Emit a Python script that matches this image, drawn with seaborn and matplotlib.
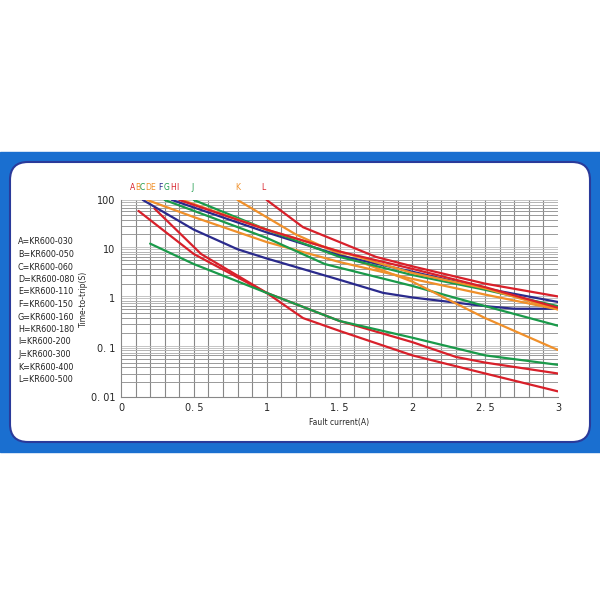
import numpy as np
import pandas as pd
import seaborn as sns
import matplotlib
matplotlib.use("Agg")
import matplotlib.pyplot as plt
from matplotlib.patches import FancyBboxPatch, Rectangle

sns.set_theme(style="white")
plt.rcParams['font.family'] = ['DejaVu Sans']

RED = "#d8202a"; GREEN = "#1a9a4a"; BLUE = "#2a2a8c"; ORANGE = "#f0902a"

curves = {
    "L1": ([0.12, 0.5, 1.0, 1.25, 1.5, 2.0, 2.5, 3.0], [60, 8, 1.3, 0.4, 0.22, 0.07, 0.03, 0.013], RED),
    "L2": ([0.23, 0.55, 1.0, 1.5, 2.0, 2.3, 2.5, 3.0], [67, 8, 1.3, 0.35, 0.13, 0.065, 0.05, 0.03], RED),
    "G1": ([0.2, 0.5, 1.0, 1.5, 2.0, 2.5, 3.0], [13, 5, 1.3, 0.35, 0.16, 0.07, 0.045], GREEN),
    "B1": ([0.15, 0.5, 0.8, 1.0, 1.5, 1.8, 2.0, 2.5, 2.7, 3.0], [100, 25, 10, 6.5, 2.4, 1.3, 1.05, 0.7, 0.62, 0.62], BLUE),
    "O1": ([0.18, 0.5, 1.0, 1.5, 2.0, 2.5, 3.0], [100, 45, 14, 5.5, 2.5, 1.2, 0.6], ORANGE),
    "G2": ([0.3, 1.0, 1.4, 2.0, 2.5, 3.0], [100, 17, 5, 1.8, 0.7, 0.28], GREEN),
    "K": ([0.8, 1.2, 1.5, 2.0, 2.5, 3.0], [100, 20, 8, 2.2, 0.4, 0.09], ORANGE),
    "L": ([1.0, 1.25, 1.5, 1.75, 2.0, 2.5, 3.0], [100, 28, 14, 7, 4.5, 2, 1.1], RED),
    "B2": ([0.35, 1.0, 1.5, 2.0, 2.5, 3.0], [100, 22, 7.5, 3.5, 1.6, 0.85], BLUE),
    "G3": ([0.5, 1.0, 1.5, 2.0, 2.5, 3.0], [100, 25, 7, 3, 1.5, 0.7], GREEN),
    "O2": ([0.42, 1.0, 1.5, 2.0, 2.5, 3.0], [100, 25, 9, 3.3, 1.6, 0.6], ORANGE),
    "R3": ([0.4, 1.0, 1.5, 2.0, 2.5, 3.0], [100, 25, 9, 4, 1.7, 0.65], RED),
}
legend_lines = ["A=KR600-030", "B=KR600-050", "C=KR600-060", "D=KR600-080", "E=KR600-110",
                "F=KR600-150", "G=KR600-160", "H=KR600-180", "I=KR600-200", "J=KR600-300",
                "K=KR600-400", "L=KR600-500"]
xticks = [0, 0.5, 1, 1.5, 2, 2.5, 3]
xticklabels = ["0", "0. 5", "1", "1. 5", "2", "2. 5", "3"]
yticks = [0.01, 0.1, 1, 10, 100]
yticklabels = ["0. 01", "0. 1", "1", "10", "100"]

fig = plt.figure(figsize=(6, 6), dpi=100)
fig.patches.append(Rectangle((0, 1 - 452/600), 1, 300/600, transform=fig.transFigure,
                             color="#1a6fd0", zorder=0))
fig.patches.append(FancyBboxPatch((10/600, 1 - 442/600), 580/600, 280/600, transform=fig.transFigure,
                                  boxstyle="round,pad=0,rounding_size=0.03", facecolor="white",
                                  edgecolor="#2a3a9a", linewidth=1.5, zorder=1))

ax = fig.add_axes([121/600, 1 - 397/600, 437/600, 197/600])
ax.set_zorder(2)
ax.set_yscale("log")
ax.set_xlim(0, 3); ax.set_ylim(0.01, 100)
for x in np.arange(0.1, 3.0, 0.1):
    ax.axvline(x, color="#888888", lw=0.8, zorder=0)
for dec in [0.01, 0.1, 1, 10]:
    for m in range(2, 10):
        ax.axhline(dec * m, color="#999999", lw=0.7, zorder=0)
    for m in [0.8, 0.9, 1.0, 1.1]:
        ax.axhline(dec * 10 * m, color="#bbbbbb", lw=0.6, zorder=0)

for name, (xs, ys, c) in curves.items():
    df = pd.DataFrame({"x": xs, "y": ys})
    sns.lineplot(data=df, x="x", y="y", color=c, lw=1.6, ax=ax, zorder=3)

ax.set_xticks(xticks); ax.set_xticklabels(xticklabels, fontsize=7)
ax.set_yticks(yticks); ax.set_yticklabels(yticklabels, fontsize=7)
ax.minorticks_off()
ax.tick_params(length=0, pad=4)
ax.set_xlabel("Fault current(A)", fontsize=5.5, labelpad=4)
ax.set_ylabel("Time-to-trip(S)", fontsize=5.5, labelpad=2)
for s in ax.spines.values():
    s.set_color("#888888"); s.set_linewidth(0.8)
ax.spines["top"].set_visible(False); ax.spines["right"].set_visible(False)

for i, t in enumerate(legend_lines):
    fig.text(18/600, 1 - (242 + i * 12.5)/600, t, fontsize=5.8, va="center", color="#222222")

top_labels = [("A", 130, RED), ("B", 135, ORANGE), ("C", 140, GREEN), ("D", 145, ORANGE), ("E", 150, ORANGE),
              ("F", 158, BLUE), ("G", 164, GREEN), ("H", 170, RED), ("I", 176, RED),
              ("J", 191, GREEN), ("K", 235, ORANGE), ("L", 261, RED)]
for t, x, c in top_labels:
    fig.text(x/600, 1 - 188/600, t, fontsize=5.5, color=c, va="center")

fig.savefig("out.png", dpi=100)
